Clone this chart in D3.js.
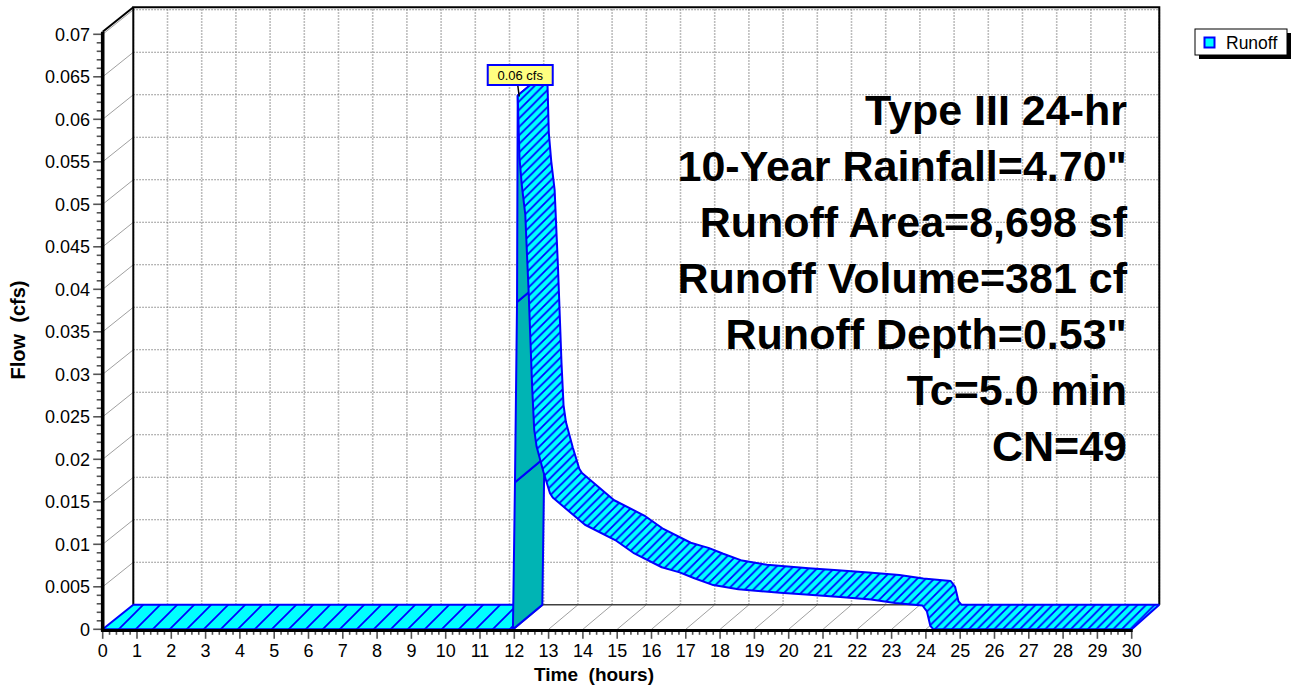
<!DOCTYPE html>
<html><head><meta charset="utf-8">
<script src="https://cdn.jsdelivr.net/npm/d3@7"></script>
<style>
body{margin:0;background:#fff}
svg{display:block}
text{font-family:"Liberation Sans",Arial,Helvetica,sans-serif;fill:#000}
</style>
</head><body>
<svg id="chart" width="1294" height="686"></svg>
<script>
// ---------------- data ----------------
const hours = [0, 11.96, 12.02, 12.08, 12.10, 12.15, 12.22, 12.32, 12.38, 12.42, 12.47, 12.52, 12.58, 12.65, 12.85, 13.04, 13.12, 14.06, 14.94, 15.47, 16.30, 16.64, 16.82, 17.25, 17.80, 18.53, 19.75, 20.5, 21.5, 22.4, 23.1, 23.9, 24.03, 24.13, 24.22, 30];
const flows = [0, 0, 0.0173, 0.0385, 0.0628, 0.0555, 0.0522, 0.0488, 0.0432, 0.0395, 0.0340, 0.0285, 0.0235, 0.0215, 0.0185, 0.0160, 0.0155, 0.0123, 0.0105, 0.0090, 0.0073, 0.0069, 0.0067, 0.0060, 0.0052, 0.0047, 0.0043, 0.0041, 0.0038, 0.0035, 0.0031, 0.0028, 0.0021, 0.0004, 0, 0];
const xTickValues = d3.range(0, 31, 1);
const yTickValues = [0, 0.005, 0.01, 0.015, 0.02, 0.025, 0.03, 0.035, 0.04, 0.045, 0.05, 0.055, 0.06, 0.065, 0.07];
const yTickLabels = ["0", "0.005", "0.01", "0.015", "0.02", "0.025", "0.03", "0.035", "0.04", "0.045", "0.05", "0.055", "0.06", "0.065", "0.07"];
const annotationLines = ["Type III 24-hr", "10-Year Rainfall=4.70\"", "Runoff Area=8,698 sf", "Runoff Volume=381 cf", "Runoff Depth=0.53\"", "Tc=5.0 min", "CN=49"];
const seriesName = "Runoff";
const xTitle = "Time  (hours)";
const yTitle = "Flow  (cfs)";

// ---------------- layout ----------------
const svg = d3.select("#chart");
const X0 = 102.7, X1 = 1131.7, Y0 = 629.3, Y70 = 34.3;
const x = d3.scaleLinear().domain([0, 30]).range([X0, X1]);
const y = d3.scaleLinear().domain([0, 0.07]).range([Y0, Y70]);
const yTopVal = 0.0703;
const depth = px => [30.6 - 3.0 * (px - X0) / (X1 - X0), -24.5];
const back = p => { const d = depth(p[0]); return [p[0] + d[0], p[1] + d[1]]; };
const line = pts => "M" + pts.map(p => p[0].toFixed(2) + "," + p[1].toFixed(2)).join("L");
const poly = pts => line(pts) + "Z";

const CYAN = "#00FFFF", TEAL = "#00B4B4", BLUE = "#0000FF";

// hatch patterns (screen-anchored)
const defs = svg.append("defs");
function makeHatch(id, hs) {
  const pat = defs.append("pattern").attr("id", id).attr("patternUnits", "userSpaceOnUse")
    .attr("width", hs).attr("height", hs);
  pat.append("rect").attr("width", hs).attr("height", hs).attr("fill", CYAN);
  pat.append("path").attr("d", `M0,${hs}L${hs},0M${-2},2L2,${-2}M${hs-2},${hs+2}L${hs+2},${hs-2}`)
    .attr("stroke", BLUE).attr("stroke-width", 1.7);
}
makeHatch("hatch", 8.5);
makeHatch("hatchWide", 17);

// ---------- walls ----------
const fBL = [x(0), y(0)], fBR = [x(30), y(0)], fTL = [x(0), y(yTopVal)];
const bBL = back(fBL), bBR = back(fBR), bTL = back(fTL), bTR = back([x(30), y(yTopVal)]);

svg.append("path").attr("d", poly([bBL, bBR, bTR, bTL])).attr("fill", "#fff");
const g = svg.append("g");
xTickValues.forEach(t => {
  const a = back([x(t), y(0)]), b = back([x(t), y(yTopVal)]);
  g.append("path").attr("d", line([a, b])).attr("stroke", "#a8a8a8").attr("stroke-width", 1.6)
    .attr("stroke-dasharray", "1.5,1.5").attr("fill", "none");
});
yTickValues.forEach(v => {
  if (v === 0) return;
  const a = back([x(0), y(v)]), b = back([x(30), y(v)]);
  g.append("path").attr("d", line([a, b])).attr("stroke", "#808080").attr("stroke-width", 1.1)
    .attr("stroke-dasharray", "1.5,1.5").attr("fill", "none");
});
svg.append("path").attr("d", poly([fBL, fTL, bTL, bBL])).attr("fill", "#fff");
svg.append("path").attr("d", poly([fBL, fBR, bBR, bBL])).attr("fill", "#fff");
yTickValues.forEach(v => {
  const a = [x(0), y(v)];
  svg.append("path").attr("d", line([a, back(a)])).attr("stroke", "#a0a0a0").attr("stroke-width", 1).attr("fill", "none");
});
xTickValues.forEach(t => {
  const a = [x(t), y(0)];
  svg.append("path").attr("d", line([a, back(a)])).attr("stroke", "#a0a0a0").attr("stroke-width", 1).attr("fill", "none");
});
svg.append("path").attr("d", line([bBL, bBR])).attr("stroke", "#404040").attr("stroke-width", 1.6).attr("fill", "none");
svg.append("path").attr("d", line([bBL, bTL, bTR, bBR])).attr("stroke", "#000").attr("stroke-width", 2).attr("fill", "none");
svg.append("path").attr("d", line([fTL, bTL])).attr("stroke", "#000").attr("stroke-width", 2).attr("fill", "none");

// ---------- 3D ribbon ----------
const pts = hours.map((t, i) => [x(t), y(flows[i])]);
const segs = d3.range(pts.length - 1).map(i => {
  const F0 = pts[i], F1 = pts[i + 1], d = depth(F0[0]);
  const sx = F1[0] - F0[0], sy = F1[1] - F0[1];
  return { i, under: (sx * d[1] - sy * d[0]) > 0 };
});
const runs = [];
segs.forEach(s => {
  const last = runs[runs.length - 1];
  if (last && last.under === s.under) last.segs.push(s.i); else runs.push({ under: s.under, segs: [s.i] });
});
const rib = svg.append("g");
runs.forEach((run, ri) => {
  if (run.under) {
    run.segs.forEach(i => {
      const F0 = pts[i], F1 = pts[i + 1], B0 = back(F0), B1 = back(F1);
      rib.append("path").attr("d", poly([F0, F1, B1, B0])).attr("fill", TEAL)
        .attr("stroke", BLUE).attr("stroke-width", 2).attr("stroke-linejoin", "round");
    });
  } else {
    const idx = [run.segs[0]].concat(run.segs.map(i => i + 1));
    const front = idx.map(i => pts[i]);
    const bk = idx.map(i => back(pts[i]));
    rib.append("path").attr("d", poly(front.concat(bk.slice().reverse())))
      .attr("fill", ri === 0 ? "url(#hatchWide)" : "url(#hatch)").attr("stroke", "none");
    [front, bk, [front[0], bk[0]], [front[front.length - 1], bk[bk.length - 1]]].forEach(p => {
      rib.append("path").attr("d", line(p)).attr("stroke", BLUE).attr("stroke-width", 2)
        .attr("fill", "none").attr("stroke-linejoin", "round");
    });
  }
});

// ---------- front axes ----------
const ax = svg.append("g");
d3.range(0, 71, 1).forEach(k => {
  const v = k / 1000, major = k % 5 === 0;
  ax.append("line").attr("x1", X0 - (major ? 9.5 : 6)).attr("x2", X0).attr("y1", y(v)).attr("y2", y(v))
    .attr("stroke", "#555").attr("stroke-width", 1.6);
});
yTickValues.forEach((v, i) => {
  ax.append("text").attr("x", 90).attr("y", y(v) + 6.5).attr("text-anchor", "end")
    .attr("font-size", 18).text(yTickLabels[i]);
});
d3.range(0, 151, 1).forEach(k => {
  const t = k / 5, major = k % 5 === 0;
  ax.append("line").attr("x1", x(t)).attr("x2", x(t)).attr("y1", Y0 + 1).attr("y2", Y0 + (major ? 9.5 : 5.5))
    .attr("stroke", "#555").attr("stroke-width", 1.6);
});
xTickValues.forEach(t => {
  ax.append("text").attr("x", x(t)).attr("y", 657).attr("text-anchor", "middle")
    .attr("font-size", 18).text(t);
});
ax.append("line").attr("x1", X0).attr("x2", X0).attr("y1", fTL[1]).attr("y2", Y0 + 2.5)
  .attr("stroke", "#000").attr("stroke-width", 3.6);
ax.append("line").attr("x1", X0 - 1.5).attr("x2", X1 + 1).attr("y1", Y0 + 1.2).attr("y2", Y0 + 1.2)
  .attr("stroke", "#000").attr("stroke-width", 3);

// axis titles
svg.append("text").attr("x", 594).attr("y", 681).attr("text-anchor", "middle")
  .attr("font-size", 19).attr("font-weight", "bold").style("white-space", "pre").text(xTitle);
svg.append("text").attr("transform", `translate(25,330) rotate(-90)`).attr("text-anchor", "middle")
  .attr("font-size", 20).attr("font-weight", "bold").style("white-space", "pre").text(yTitle);

// ---------- annotation block ----------
annotationLines.forEach((s, i) => {
  svg.append("text").attr("x", 1127).attr("y", 125 + i * 56).attr("text-anchor", "end")
    .attr("font-size", 43).attr("font-weight", "bold").text(s);
});

// ---------- peak label ----------
const pk = d3.maxIndex(flows);
const pp = pts[pk];
const lbl = d3.format(".2f")(flows[pk]) + " cfs";
const bw = 65, bh = 20, bx = pp[0] + 2.5 - bw / 2, by = pp[1] - 10.5 - bh;
svg.append("line").attr("x1", pp[0]).attr("y1", by + bh).attr("x2", pp[0] + 1.5).attr("y2", pp[1] + 1)
  .attr("stroke", "#000").attr("stroke-width", 1.5);
svg.append("rect").attr("x", bx).attr("y", by).attr("width", bw).attr("height", bh)
  .attr("fill", "#FFFF80").attr("stroke", BLUE).attr("stroke-width", 2);
svg.append("text").attr("x", bx + bw / 2).attr("y", by + bh - 5.5).attr("text-anchor", "middle")
  .attr("font-size", 13).text(lbl);

// ---------- legend ----------
const lg = svg.append("g").attr("transform", "translate(1195,29)");
lg.append("rect").attr("x", 4).attr("y", 4).attr("width", 92).attr("height", 26).attr("fill", "#000");
lg.append("rect").attr("x", 0).attr("y", 0).attr("width", 92).attr("height", 26).attr("fill", "#fff").attr("stroke", "#000").attr("stroke-width", 1);
lg.append("rect").attr("x", 9.5).attr("y", 8.5).attr("width", 10).attr("height", 10).attr("fill", CYAN).attr("stroke", BLUE).attr("stroke-width", 2);
lg.append("text").attr("x", 31).attr("y", 20).attr("font-size", 17.5).text(seriesName);
</script>
</body></html>
